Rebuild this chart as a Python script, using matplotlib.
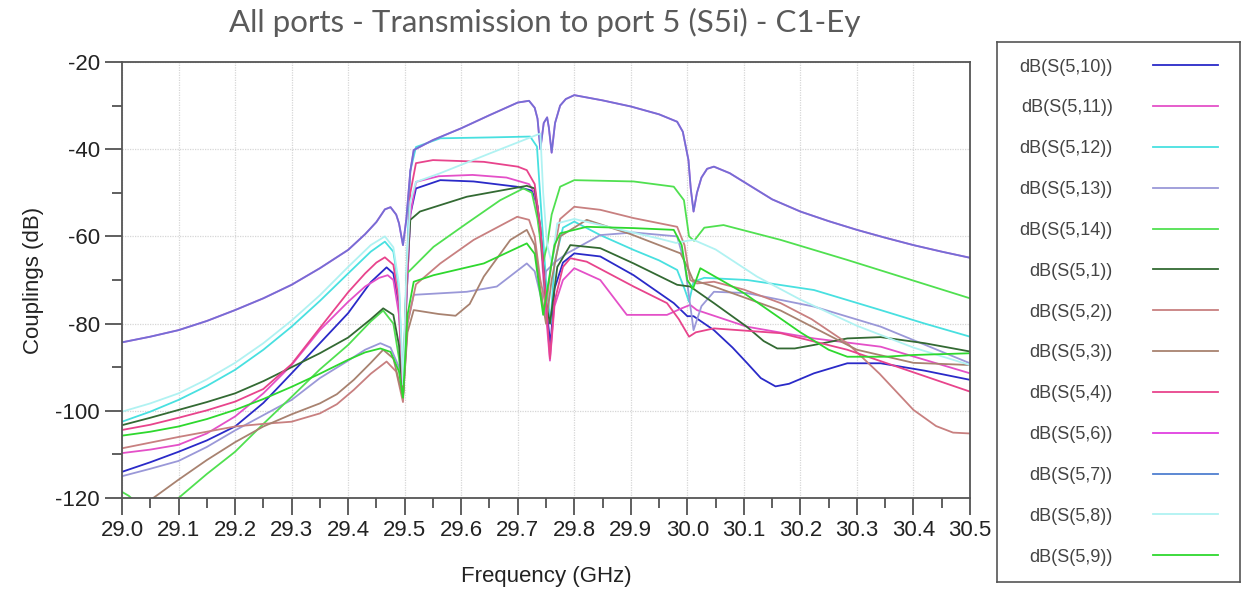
import numpy as np
import matplotlib
matplotlib.use("Agg")
import matplotlib.pyplot as plt
from matplotlib.ticker import MultipleLocator

plt.rcParams['font.family'] = ['Liberation Sans', 'DejaVu Sans']

# Curves: frequency (GHz) and coupling (dB) for each port.
f10 = [29.0, 29.05, 29.1, 29.15, 29.2, 29.25, 29.3, 29.35, 29.4, 29.44, 29.468, 29.48, 29.49, 29.497, 29.503, 29.51, 29.52, 29.563, 29.622, 29.698, 29.725, 29.735, 29.745, 29.752, 29.758, 29.765, 29.78, 29.8, 29.846, 29.905, 29.976, 30.0, 30.011, 30.047, 30.08, 30.106, 30.13, 30.156, 30.18, 30.224, 30.283, 30.342, 30.42, 30.5]
d10 = [-114.0, -111.8, -109.4, -106.8, -103.6, -98.2, -91.4, -84.5, -77.6, -70.5, -67.1, -68.5, -76, -96, -75, -55, -49, -47.1, -47.4, -48.6, -49.5, -53, -65, -78, -85, -72, -66, -63.9, -64.6, -68.9, -75.3, -78.3, -78.3, -81.5, -85.5, -89.1, -92.5, -94.4, -93.8, -91.4, -89.1, -89.1, -90.8, -92.9]

f11 = [29.0, 29.05, 29.1, 29.15, 29.2, 29.25, 29.3, 29.35, 29.4, 29.43, 29.455, 29.47, 29.48, 29.49, 29.497, 29.503, 29.51, 29.52, 29.56, 29.62, 29.68, 29.72, 29.73, 29.74, 29.75, 29.757, 29.765, 29.78, 29.8, 29.846, 29.893, 29.964, 29.99, 30.005, 30.017, 30.105, 30.224, 30.342, 30.5]
d11 = [-109.7, -108.9, -107.8, -105.2, -101.3, -96.0, -89.5, -81.5, -75.0, -71.5, -69.5, -68.9, -70, -78, -97, -75, -55, -47.5, -46.2, -45.9, -46.5, -48, -50, -60, -78, -88.5, -76, -70, -67.3, -70, -78, -78, -76.5, -75.7, -76.9, -80.7, -83.4, -85.3, -91.4]

f12 = [29.0, 29.05, 29.1, 29.15, 29.2, 29.25, 29.3, 29.35, 29.4, 29.44, 29.465, 29.48, 29.49, 29.497, 29.503, 29.51, 29.52, 29.563, 29.65, 29.722, 29.734, 29.742, 29.75, 29.758, 29.765, 29.78, 29.8, 29.846, 29.905, 29.95, 29.982, 29.995, 30.003, 30.011, 30.03, 30.106, 30.224, 30.342, 30.42, 30.5]
d12 = [-102.5, -100.2, -97.5, -94.3, -90.6, -86.0, -80.7, -74.8, -68.5, -63.5, -61.2, -63.5, -72, -95, -70, -45, -39.5, -37.5, -37.3, -37.1, -39.4, -55, -70, -80, -66, -58, -56.6, -59.7, -63.1, -65.5, -67.7, -72, -75, -70.4, -69.5, -70.0, -72.3, -76.9, -80, -83.0]

f13 = [29.0, 29.05, 29.1, 29.15, 29.2, 29.25, 29.3, 29.35, 29.4, 29.43, 29.457, 29.475, 29.49, 29.497, 29.505, 29.516, 29.61, 29.663, 29.716, 29.73, 29.743, 29.75, 29.765, 29.787, 29.846, 29.905, 29.982, 29.995, 30.011, 30.025, 30.047, 30.105, 30.224, 30.342, 30.5]
d13 = [-115.0, -113.3, -111.5, -108.3, -104.5, -101.0, -97.5, -92.5, -88.5, -86.0, -84.5, -85.5, -90, -97, -80, -73.4, -72.7, -71.5, -66.2, -68, -75, -68, -66, -63.9, -59.7, -59.1, -60, -66, -81.5, -76, -72.7, -73, -76.1, -80.7, -89.1]

f14 = [29.0, 29.012, 29.025, 29.06, 29.1, 29.15, 29.2, 29.25, 29.3, 29.35, 29.4, 29.44, 29.462, 29.48, 29.49, 29.497, 29.504, 29.551, 29.61, 29.669, 29.71, 29.725, 29.735, 29.745, 29.752, 29.76, 29.775, 29.8, 29.905, 29.976, 29.994, 30.003, 30.012, 30.03, 30.064, 30.165, 30.283, 30.5]
d14 = [-118.6, -119.5, -121, -124, -120, -114.5, -109.4, -103.0, -96.8, -90.5, -84.9, -79.5, -77.0, -80, -88, -97, -68.5, -62.4, -57, -51.7, -49, -50, -56, -66, -62, -55, -48.6, -47.1, -47.4, -48.6, -51.7, -60, -61, -58, -57.4, -60.8, -65.4, -74.2]

f1 = [29.0, 29.05, 29.1, 29.15, 29.2, 29.25, 29.3, 29.35, 29.4, 29.44, 29.462, 29.48, 29.49, 29.497, 29.503, 29.51, 29.527, 29.61, 29.716, 29.73, 29.74, 29.75, 29.757, 29.77, 29.793, 29.846, 29.905, 29.982, 30.005, 30.047, 30.105, 30.135, 30.159, 30.19, 30.224, 30.283, 30.342, 30.42, 30.5]
d1 = [-103.3, -101.6, -99.8, -98.0, -96.0, -93.2, -90.0, -86.8, -83.2, -79.0, -76.5, -78, -85, -97, -70, -56.2, -54.3, -50.9, -48.4, -49, -58, -75, -80, -67, -62, -62.7, -66.2, -71.1, -71.5, -75.3, -80.7, -84.0, -85.7, -85.7, -84.9, -83.4, -83.1, -84.5, -86.4]

f2 = [29.0, 29.05, 29.1, 29.15, 29.2, 29.25, 29.3, 29.35, 29.38, 29.41, 29.44, 29.468, 29.485, 29.497, 29.505, 29.52, 29.563, 29.622, 29.699, 29.72, 29.73, 29.74, 29.75, 29.76, 29.775, 29.8, 29.846, 29.905, 29.982, 29.995, 30.005, 30.017, 30.047, 30.1, 30.165, 30.22, 30.283, 30.34, 30.4, 30.44, 30.47, 30.5]
d2 = [-108.6, -107.3, -106.0, -104.8, -103.6, -103.0, -102.5, -100.6, -98.5, -95.2, -91.5, -88.7, -91, -98, -80, -71, -66.2, -60.8, -55.5, -56.2, -60, -70, -76, -66, -56, -53.2, -53.9, -55.8, -57.8, -62, -70, -70.8, -70.4, -72.2, -75.3, -79.0, -84.5, -91.5, -99.8, -103.5, -105.0, -105.2]

f3 = [29.0, 29.03, 29.05, 29.1, 29.15, 29.2, 29.25, 29.3, 29.35, 29.38, 29.41, 29.44, 29.462, 29.48, 29.497, 29.505, 29.516, 29.56, 29.59, 29.615, 29.64, 29.687, 29.716, 29.73, 29.74, 29.75, 29.76, 29.775, 29.822, 29.9, 29.988, 30.0, 30.01, 30.047, 30.165, 30.3, 30.4, 30.5]
d3 = [-126, -123, -120.5, -115.8, -111.3, -107.2, -103.6, -100.8, -98.3, -96.2, -92.9, -89.0, -86.0, -88, -97, -82, -76.9, -77.8, -78.2, -75.5, -69.2, -60.8, -58.5, -62, -72, -80, -70, -60, -56.2, -59.5, -63.9, -67, -70, -71.5, -77, -86, -89, -89.5]

f4 = [29.0, 29.05, 29.1, 29.15, 29.2, 29.25, 29.3, 29.35, 29.4, 29.43, 29.45, 29.465, 29.48, 29.49, 29.497, 29.503, 29.51, 29.52, 29.55, 29.64, 29.7, 29.716, 29.73, 29.74, 29.75, 29.757, 29.765, 29.78, 29.793, 29.822, 29.905, 29.964, 29.985, 30.003, 30.015, 30.047, 30.165, 30.283, 30.5]
d4 = [-104.4, -103.2, -101.6, -99.9, -97.9, -95.0, -89.3, -81.0, -72.8, -68.5, -66.0, -64.8, -66.5, -75, -96, -72, -50, -43.2, -42.5, -42.9, -44, -44.8, -48, -58, -75, -88, -75, -67, -65, -65.8, -71.5, -75.3, -79, -83, -82, -81.1, -82.2, -86, -95.6]

f7 = [29.0, 29.05, 29.1, 29.15, 29.2, 29.25, 29.3, 29.35, 29.4, 29.43, 29.45, 29.465, 29.475, 29.485, 29.49, 29.497, 29.503, 29.51, 29.516, 29.55, 29.6, 29.65, 29.7, 29.72, 29.73, 29.735, 29.74, 29.746, 29.752, 29.755, 29.76, 29.766, 29.775, 29.785, 29.8, 29.85, 29.9, 29.95, 29.982, 29.992, 30.002, 30.006, 30.011, 30.017, 30.025, 30.035, 30.047, 30.075, 30.1, 30.15, 30.2, 30.25, 30.3, 30.35, 30.4, 30.45, 30.5]
d7 = [-84.3, -83.0, -81.5, -79.4, -76.9, -74.2, -71.1, -67.3, -63.1, -59.5, -56.7, -53.8, -53.3, -55.0, -57.0, -62.0, -56.0, -45.0, -40.2, -37.9, -35.2, -32.2, -29.3, -28.9, -30.5, -33.0, -40.0, -34.0, -32.7, -35.0, -40.8, -34.0, -30.0, -28.5, -27.6, -28.8, -30.2, -32.0, -33.7, -36.0, -42.5, -49.0, -54.3, -50.0, -46.5, -44.5, -44.0, -45.5, -47.5, -51.5, -54.3, -56.5, -58.5, -60.3, -62.0, -63.5, -64.9]

# port 6 lies on top of port 7 over the whole band
f6 = list(f7)
d6 = list(d7)

f8 = [29.0, 29.05, 29.1, 29.15, 29.2, 29.25, 29.3, 29.35, 29.4, 29.44, 29.465, 29.48, 29.49, 29.497, 29.503, 29.51, 29.52, 29.563, 29.65, 29.74, 29.745, 29.752, 29.76, 29.77, 29.8, 29.85, 29.9, 29.95, 29.98, 30.0, 30.011, 30.05, 30.123, 30.2, 30.3, 30.4, 30.5]
d8 = [-100.2, -98.3, -96.0, -92.8, -89.0, -84.5, -79.3, -73.5, -67.0, -62.0, -60.0, -62.5, -71, -94, -68, -52, -47.5, -45.5, -41.0, -36.4, -50, -62, -66, -57, -56, -57.5, -59, -60.5, -61.5, -61, -60.8, -63, -69.2, -74.5, -80.5, -85.5, -89.5]

f9 = [29.0, 29.05, 29.1, 29.15, 29.2, 29.25, 29.3, 29.35, 29.4, 29.43, 29.457, 29.475, 29.49, 29.497, 29.505, 29.516, 29.551, 29.64, 29.716, 29.73, 29.745, 29.755, 29.765, 29.775, 29.822, 29.905, 29.976, 29.99, 30.0, 30.01, 30.023, 30.1, 30.2, 30.25, 30.283, 30.35, 30.4, 30.5]
d9 = [-105.7, -104.8, -103.6, -101.9, -99.8, -97.3, -94.5, -91.5, -88.3, -86.6, -85.7, -86.5, -91, -97, -78, -70.4, -68.9, -66.2, -61.6, -64, -78, -70, -62, -59.3, -57.8, -58.1, -58.5, -62, -70, -72, -67.3, -73, -82, -86.0, -87.6, -87.6, -87.2, -86.8]

labels = ['dB(S(5,10))', 'dB(S(5,11))', 'dB(S(5,12))', 'dB(S(5,13))', 'dB(S(5,14))',
          'dB(S(5,1))', 'dB(S(5,2))', 'dB(S(5,3))', 'dB(S(5,4))', 'dB(S(5,6))',
          'dB(S(5,7))', 'dB(S(5,8))', 'dB(S(5,9))']
freqs = [f10, f11, f12, f13, f14, f1, f2, f3, f4, f6, f7, f8, f9]
vals = [d10, d11, d12, d13, d14, d1, d2, d3, d4, d6, d7, d8, d9]
colors = ['#2a2ac8', '#e450c8', '#48e0e0', '#9a98d8', '#50e050',
          '#336a33', '#c88080', '#a88270', '#e8448c', '#e040e0',
          '#4f7fd0', '#b0f2f2', '#2ed82e']

fig = plt.figure(figsize=(12.42, 5.90), dpi=100)
ax = fig.add_axes([122/1242, 1-498/590, 848/1242, 436/590])

handles = []
for f, d, c, lab in zip(freqs, vals, colors, labels):
    alpha = 0.75 if lab == 'dB(S(5,7))' else 1.0
    ln, = ax.plot(f, d, color=c, lw=1.3, alpha=alpha, label=lab)
    handles.append(ln)

ax.set_xlim(29.0, 30.5)
ax.set_ylim(-120, -20)
ax.xaxis.set_major_locator(MultipleLocator(0.1))
ax.xaxis.set_minor_locator(MultipleLocator(0.05))
ax.yaxis.set_major_locator(MultipleLocator(20))
ax.yaxis.set_minor_locator(MultipleLocator(10))
ax.xaxis.set_major_formatter(plt.FuncFormatter(lambda v, p: f'{v:.1f}'))
ax.yaxis.set_major_formatter(plt.FuncFormatter(lambda v, p: f'{v:.0f}'))

ax.grid(True, which='major', color='#d6d6d6', linestyle=(0, (1, 1)), lw=0.9)
ax.tick_params(which='major', length=12, width=1.2, color='#444444', labelsize=16,
               labelcolor='#222222', pad=4)
ax.tick_params(which='minor', length=7, width=1.2, color='#444444')
for s in ax.spines.values():
    s.set_color('#555555')
    s.set_linewidth(1.3)

ax.set_xlabel('Frequency (GHz)', fontsize=16, color='#222222', labelpad=18)
ax.set_ylabel('Couplings (dB)', fontsize=16, color='#222222', labelpad=8)

fig.text(545/1242, 1-22/590, 'All ports - Transmission to port 5 (S5i) - C1-Ey',
         ha='center', va='center', fontsize=22.5, color='#5a5a5a',
         family=['Lato', 'DejaVu Sans'])

# legend box on the right
lax = fig.add_axes([997/1242, 1-582/590, 243/1242, 540/590])
lax.set_xticks([])
lax.set_yticks([])
for s in lax.spines.values():
    s.set_color('#555555')
    s.set_linewidth(1.2)
leg = lax.legend(handles, labels, loc='center', frameon=False, markerfirst=False,
                 fontsize=13, labelspacing=1.32, handlelength=3.6, handletextpad=2.2,
                 labelcolor='#444444')
for lh in leg.get_lines():
    lh.set_alpha(1.0)
    lh.set_linewidth(1.3)

fig.savefig('out.png', dpi=100)
